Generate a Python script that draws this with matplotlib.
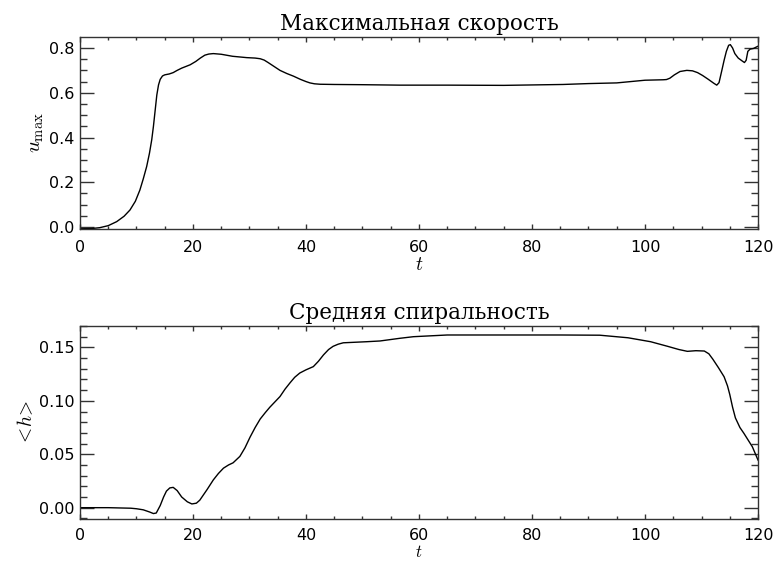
import matplotlib
matplotlib.use("Agg")
import matplotlib.pyplot as plt
from matplotlib.ticker import MultipleLocator, FormatStrFormatter

plt.rcParams['mathtext.fontset'] = 'cm'
plt.rcParams['font.family'] = ['DejaVu Sans']

# top panel: maximal velocity
t_u = [0, 2, 3.5, 5, 6.5, 7.8, 8.85, 9.8, 10.6, 11.2, 11.8, 12.3, 12.7, 13.0, 13.3, 13.6, 13.9, 14.2,
       14.6, 15.0, 15.8, 16.5, 17.2, 18.0, 19.5, 20.5, 21.3, 22.1, 22.8, 23.6, 25.0, 27.0, 29.5, 31.0,
       31.9, 32.6, 33.3, 34.2, 35.4, 36.6, 37.8, 39.0, 40.0, 40.7, 41.5, 42.5, 45, 50, 56.6, 65, 75,
       85.5, 90, 95, 97.5, 100, 103.2, 103.8, 104.4, 105.2, 106.2, 107.4, 108.4, 109.3, 110.2, 111.2,
       112.2, 112.7, 113.1, 113.6, 114.0, 114.4, 114.8, 115.1, 115.5, 115.9, 116.5, 117.2, 117.6,
       117.9, 118.2, 118.6, 119.2, 120]
u_max = [-0.008, -0.007, -0.003, 0.006, 0.024, 0.048, 0.076, 0.115, 0.165, 0.215, 0.27, 0.33, 0.39,
         0.45, 0.52, 0.59, 0.635, 0.66, 0.675, 0.68, 0.684, 0.69, 0.70, 0.71, 0.725, 0.74, 0.755, 0.768,
         0.773, 0.775, 0.772, 0.763, 0.757, 0.755, 0.752, 0.746, 0.735, 0.72, 0.70, 0.686, 0.674, 0.66,
         0.65, 0.644, 0.640, 0.638, 0.637, 0.636, 0.634, 0.634, 0.633, 0.637, 0.641, 0.644, 0.650,
         0.656, 0.658, 0.659, 0.665, 0.680, 0.695, 0.70, 0.698, 0.69, 0.677, 0.66, 0.642, 0.634, 0.645,
         0.70, 0.745, 0.785, 0.812, 0.815, 0.80, 0.775, 0.755, 0.742, 0.735, 0.745, 0.785, 0.795, 0.798,
         0.808]

# bottom panel: mean helicity
t_h = [0, 5, 9, 10, 11.2, 12.3, 13.0, 13.5, 14.2, 14.8, 15.3, 15.9, 16.5, 17.2, 18.0, 19.0, 19.8,
       20.6, 21.2, 22.5, 23.6, 24.5, 25.4, 26.3, 27.1, 28.3, 29.2, 30.1, 31.0, 31.9, 32.8, 33.6, 35.4,
       36.3, 37.2, 38.0, 38.9, 40.0, 41.3, 42.2, 43.1, 44.0, 44.8, 45.7, 46.6, 50.7, 53.1, 56.6, 59,
       65, 75, 85, 92, 97, 101, 104, 106, 107.5, 109, 110.5, 111.3, 112, 113, 114, 114.6, 115, 115.5,
       116, 116.8, 117.5, 119, 120]
h_mean = [0.000, 0.000, -0.0005, -0.001, -0.002, -0.004, -0.0055, -0.005, 0.002, 0.010, 0.0155, 0.0185,
          0.019, 0.016, 0.010, 0.0055, 0.0035, 0.0042, 0.007, 0.017, 0.026, 0.032, 0.037, 0.040, 0.042,
          0.048, 0.056, 0.066, 0.075, 0.083, 0.089, 0.094, 0.104, 0.111, 0.117, 0.122, 0.126, 0.129,
          0.132, 0.137, 0.143, 0.148, 0.151, 0.153, 0.1543, 0.1553, 0.156, 0.1585, 0.160, 0.1616,
          0.1616, 0.1616, 0.1614, 0.159, 0.1553, 0.151, 0.148, 0.1463, 0.1469, 0.1466, 0.144, 0.139,
          0.131, 0.1225, 0.114, 0.106, 0.094, 0.084, 0.075, 0.0696, 0.057, 0.0446]

titles = ["Максимальная скорость", "Средняя спиральность"]
ylabels = [r'$u_{\rm max}$', r'$<\!h\!>$']
xlabel = r'$t$'

fig = plt.figure(figsize=(7.78, 5.62), dpi=100)
ax1 = fig.add_axes([0.1028, 0.5925, 0.8715, 0.3416])
ax2 = fig.add_axes([0.1028, 0.0765, 0.8715, 0.3434])

def style(ax, ymaj, ymin, xpad):
    ax.xaxis.set_major_locator(MultipleLocator(20))
    ax.xaxis.set_minor_locator(MultipleLocator(5))
    ax.yaxis.set_major_locator(MultipleLocator(ymaj))
    ax.yaxis.set_minor_locator(MultipleLocator(ymin))
    ax.tick_params(axis='both', which='both', direction='in', top=True, right=True,
                   color='#333333', width=1.0)
    ax.tick_params(axis='x', which='major', length=3.5, labelsize=11.5, pad=xpad)
    ax.tick_params(axis='x', which='minor', length=2.5)
    ax.tick_params(axis='y', which='major', length=10, labelsize=11.5, pad=4)
    ax.tick_params(axis='y', which='minor', length=5)
    for s in ax.spines.values():
        s.set_linewidth(1.0)
        s.set_color('#333333')

ax1.plot(t_u, u_max, color='black', lw=1.0)
ax1.set_xlim(0, 120)
ax1.set_ylim(-0.009, 0.849)
style(ax1, 0.2, 0.05, 8)
ax1.yaxis.set_major_formatter(FormatStrFormatter('%.1f'))
ax1.set_title(titles[0], family='DejaVu Serif', fontsize=15.5, pad=5)
ax1.set_ylabel(ylabels[0], fontsize=15, labelpad=2)
ax1.set_xlabel(xlabel, fontsize=14, labelpad=0)

ax2.plot(t_h, h_mean, color='black', lw=1.0)
ax2.set_xlim(0, 120)
ax2.set_ylim(-0.0106, 0.170)
style(ax2, 0.05, 0.01, 6.5)
ax2.yaxis.set_major_formatter(FormatStrFormatter('%.2f'))
ax2.set_title(titles[1], family='DejaVu Serif', fontsize=15.5, pad=5)
ax2.set_ylabel(ylabels[1], fontsize=14, labelpad=2)
ax2.set_xlabel(xlabel, fontsize=12, labelpad=0)

fig.savefig('out.png', dpi=100)
